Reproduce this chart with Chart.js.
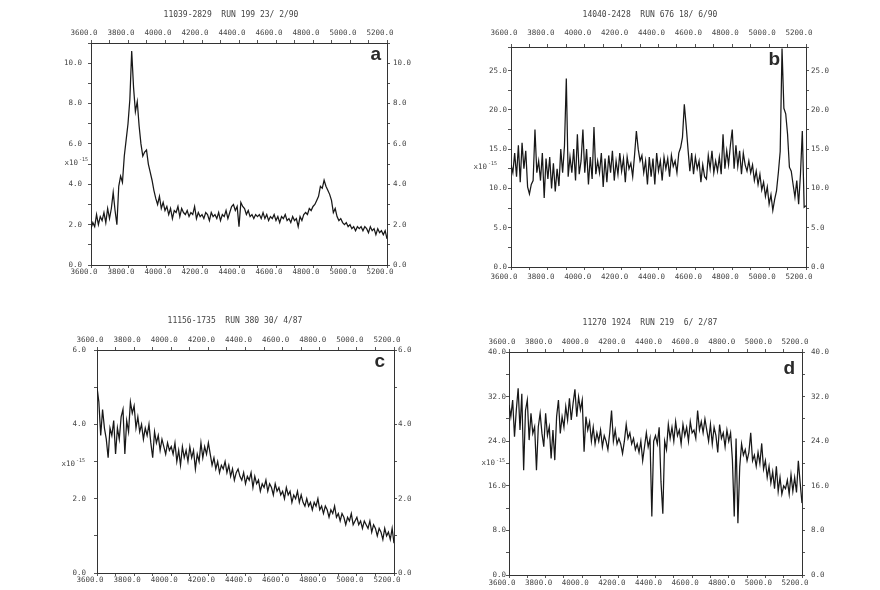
<!DOCTYPE html>
<html>
<head>
<meta charset="utf-8">
<script src="https://cdn.jsdelivr.net/npm/chart.js@4.4.0/dist/chart.umd.min.js"></script>
<style>
  body { margin: 0; background: #fff; width: 880px; height: 590px; position: relative; overflow: hidden; }
  canvas { position: absolute; }
</style>
</head>
<body>
<canvas id="pa" width="462" height="295" style="left:0px;top:0px"></canvas>
<canvas id="pb" width="400" height="295" style="left:450px;top:0px"></canvas>
<canvas id="pc" width="470" height="290" style="left:0px;top:300px"></canvas>
<canvas id="pd" width="400" height="290" style="left:450px;top:300px"></canvas>
<script>
// wavelength grid (Angstrom) - one reading every 10 A from 3600 to 5200
var lambdaStart = 3600;
var lambdaStep = 10;

var titleA = '11039-2829  RUN 199 23/ 2/90';
var titleB = '14040-2428  RUN 676 18/ 6/90';
var titleC = '11156-1735  RUN 380 30/ 4/87';
var titleD = '11270 1924  RUN 219  6/ 2/87';

var unitLabel = 'x10';
var unitPower = '-15';

// flux, units of 1e-15
var fluxA = [
  1.8, 2.1, 1.9, 2.5, 2.0, 2.4, 2.2, 2.6, 2.1, 2.8,
  2.3, 2.8, 3.6, 2.7, 2.0, 3.9, 4.4, 4.1, 5.4, 6.2,
  7.0, 8.2, 10.6, 8.8, 7.6, 8.1, 6.9, 6.0, 5.4, 5.6,
  5.7, 5.0, 4.6, 4.2, 3.7, 3.3, 3.0, 3.4, 2.8, 3.1,
  2.7, 2.9, 2.5, 2.8, 2.3, 2.7, 2.6, 2.9, 2.4, 2.8,
  2.6, 2.5, 2.7, 2.4, 2.6, 2.5, 2.9, 2.3, 2.6, 2.4,
  2.5, 2.3, 2.6, 2.5, 2.2, 2.6, 2.4, 2.5, 2.3, 2.6,
  2.2, 2.5, 2.4, 2.7, 2.3, 2.6, 2.9, 3.0, 2.7, 2.9,
  1.9, 3.1, 2.9, 2.8, 2.5, 2.7, 2.4, 2.5, 2.3, 2.5,
  2.4, 2.5, 2.3, 2.6, 2.3, 2.5, 2.2, 2.4, 2.3, 2.5,
  2.2, 2.4, 2.1, 2.4, 2.3, 2.5, 2.2, 2.3, 2.1, 2.4,
  2.2, 2.3, 1.9, 2.4, 2.2, 2.5, 2.6, 2.5, 2.8, 2.7,
  2.9, 3.0, 3.2, 3.4, 3.9, 3.8, 4.2, 3.9, 3.7, 3.5,
  3.2, 2.6, 2.8, 2.4, 2.2, 2.3, 2.1, 2.0, 2.1, 1.9,
  2.0, 1.8, 1.9, 1.7, 1.9, 1.8, 1.9, 1.7, 1.9, 1.8,
  1.6, 1.9, 1.7, 1.8, 1.5, 1.8, 1.6, 1.7, 1.5, 1.7,
  1.3
];

var fluxB = [
  13.0, 12.0, 14.5, 11.5, 15.5, 10.8, 15.8, 12.5, 14.8, 10.2,
  9.3, 10.5, 11.0, 17.5, 12.0, 13.5, 11.0, 14.5, 8.8, 13.8,
  11.2, 14.0, 10.0, 13.2, 9.6, 12.5, 10.3, 15.0, 12.0, 15.4,
  24.0, 11.5, 14.0, 12.0, 15.0, 11.0, 16.9, 11.8, 13.5, 17.5,
  12.0, 15.0, 10.5, 14.0, 11.2, 17.8, 11.8, 13.5, 12.0, 14.5,
  10.2, 13.8, 10.8, 14.2, 12.0, 14.8, 11.0, 13.5, 11.8, 14.5,
  12.2, 13.8, 10.8, 14.0, 12.5, 13.2, 11.5, 14.2, 17.3, 15.0,
  13.5, 14.2, 12.0, 13.5, 10.5, 14.0, 11.5, 13.8, 10.5, 14.5,
  12.2, 13.5, 11.0, 14.0, 12.5, 13.8, 11.5, 14.2, 12.8, 13.5,
  12.0, 14.5, 15.2, 16.5, 20.7, 18.0, 15.0, 12.2, 14.5, 11.8,
  14.0, 12.5, 13.5, 10.8, 13.0, 11.5, 11.2, 14.2, 12.5, 14.8,
  12.0, 13.5, 12.2, 14.0, 11.8, 16.9, 12.5, 14.8, 13.0, 15.5,
  17.5, 12.5, 15.5, 12.8, 14.8, 11.8, 14.5, 13.0, 12.2, 13.5,
  12.0, 13.0, 11.0, 12.2, 10.5, 11.8, 9.8, 10.8, 9.0, 10.2,
  8.0, 9.2, 7.2, 8.6, 9.7, 12.0, 14.7, 27.8, 20.2, 19.5,
  16.9, 12.7, 12.2, 10.5, 8.9, 11.0, 8.0, 11.8, 17.3, 7.6,
  7.8
];

var fluxC = [
  5.0, 4.6, 3.7, 4.4, 3.9, 3.6, 3.1, 3.9, 3.7, 4.1,
  3.2, 3.9, 3.6, 4.2, 4.4, 3.2, 4.1, 3.8, 4.6, 4.3,
  4.5, 3.9, 4.2, 3.8, 4.0, 3.6, 3.9, 3.7, 4.0, 3.5,
  3.1, 3.8, 3.5, 3.7, 3.3, 3.6, 3.4, 3.2, 3.5, 3.3,
  3.4, 3.2, 3.5, 3.0, 3.3, 2.9, 3.4, 3.1, 3.3, 3.0,
  3.4, 3.1, 3.3, 2.8, 3.2, 3.0, 3.5, 3.1, 3.4, 3.2,
  3.5, 3.2, 2.9, 3.1, 2.8, 3.0, 2.7, 2.9, 2.8, 3.0,
  2.7, 2.9, 2.6, 2.8, 2.5, 2.7, 2.8, 2.6, 2.5, 2.7,
  2.4, 2.6, 2.5, 2.7, 2.3, 2.6, 2.4, 2.5, 2.2, 2.4,
  2.3, 2.5, 2.2, 2.4, 2.3, 2.1, 2.4, 2.2, 2.3, 2.1,
  2.2, 2.0, 2.3, 2.1, 2.2, 1.9, 2.1, 2.0, 2.2, 1.9,
  2.1, 1.9, 1.8, 2.0, 1.8, 1.9, 1.7, 1.9, 1.8, 2.0,
  1.7, 1.8, 1.6, 1.8, 1.7, 1.5, 1.7, 1.6, 1.8, 1.5,
  1.6, 1.4, 1.6, 1.5, 1.3, 1.5, 1.4, 1.6, 1.3, 1.4,
  1.5, 1.3, 1.4, 1.2, 1.4, 1.3, 1.2, 1.4, 1.1, 1.3,
  1.2, 1.0, 1.2, 1.1, 0.9, 1.2, 1.0, 1.1, 0.9, 1.2,
  0.8
];

var fluxD = [
  30.5, 28.4, 31.4, 24.8, 29.6, 33.5, 26.0, 32.5, 18.8, 29.5,
  31.4, 24.2, 29.0, 25.4, 26.6, 18.8, 26.6, 29.0, 25.4, 23.0,
  29.0, 25.0, 26.6, 20.9, 26.0, 20.6, 28.4, 31.4, 25.4, 28.4,
  26.5, 30.2, 27.8, 31.7, 27.8, 30.8, 33.3, 28.4, 31.9, 29.6,
  31.4, 22.1, 28.4, 26.0, 27.5, 24.0, 26.5, 23.5, 25.5, 24.0,
  26.0, 23.0, 25.0, 24.0, 22.5, 25.5, 29.5, 24.0, 26.0, 23.5,
  24.5, 23.5, 21.8, 24.0, 27.0, 24.5, 25.5, 23.5, 24.5, 22.5,
  23.5, 22.0, 24.0, 20.5, 23.0, 25.5, 23.0, 24.5, 10.5, 24.0,
  25.0, 23.5, 26.5, 16.7, 11.0, 24.0, 22.5, 27.0, 24.5, 26.5,
  24.0, 27.5, 25.0, 26.0, 23.5, 27.0, 25.0, 26.5, 24.0, 27.5,
  25.5, 26.0, 24.5, 29.5, 26.0, 27.5, 25.5, 28.0, 26.0, 24.0,
  27.0, 23.5, 26.5, 25.0, 22.0, 27.0, 24.5, 25.5, 23.0, 26.0,
  24.0, 25.5, 20.6, 10.5, 24.5, 9.3, 19.4, 23.5, 21.5, 22.5,
  20.5, 22.0, 25.5, 20.5, 21.5, 19.5, 22.0, 20.0, 23.6, 19.0,
  20.5, 17.5, 19.5, 16.5, 18.5, 15.5, 19.5, 15.0, 17.5, 14.5,
  16.0, 15.5, 17.0, 14.5, 18.0, 15.0, 17.5, 14.8, 20.5, 16.5,
  12.9
];

Chart.defaults.font.family = '"DejaVu Sans Mono", monospace';
Chart.defaults.font.size = 7.5;
Chart.defaults.color = '#444';

// letter and x10^-15 label
var extras = {
  id: 'extras',
  afterDraw: function(chart, args, o) {
    var ctx = chart.ctx, a = chart.chartArea;
    ctx.save();
    ctx.fillStyle = '#2a2a2a';
    ctx.font = 'bold 19px "Liberation Sans", Arial, sans-serif';
    ctx.textAlign = 'right';
    ctx.textBaseline = 'alphabetic';
    ctx.fillText(o.letter, a.right - o.letterRight, a.top + o.letterBase);

    var uy = a.top + a.height * o.unitPos;
    var ux = a.left - o.unitGap;
    ctx.fillStyle = '#444';
    ctx.textBaseline = 'middle';
    ctx.font = '5px "DejaVu Sans Mono", monospace';
    ctx.fillText(unitPower, ux, uy - 3);
    var pw = ctx.measureText(unitPower).width;
    ctx.font = '7.5px "DejaVu Sans Mono", monospace';
    ctx.fillText(unitLabel, ux - pw - 1, uy);
    ctx.restore();
  }
};

function fixW(w) { return function(s) { s.width = w; }; }
function fixH(h) { return function(s) { s.height = h; }; }

function xAxis(pos, h, pad) {
  return {
    type: 'linear', position: pos, axis: 'x',
    min: 3600, max: 5200,
    afterFit: fixH(h),
    grid: { drawOnChartArea: false, drawTicks: true, tickLength: 3, color: '#555' },
    border: { display: true, color: '#333', width: 1 },
    ticks: {
      stepSize: 100, autoSkip: false, maxRotation: 0, padding: pad, labelOffset: -7,
      callback: function(v) { return v % 200 === 0 ? v.toFixed(1) : ''; }
    }
  };
}

function yAxis(pos, w, pad, ymax, major, minor) {
  return {
    type: 'linear', position: pos, axis: 'y',
    min: 0, max: ymax,
    afterFit: fixW(w),
    grid: { drawOnChartArea: false, drawTicks: true, tickLength: 3, color: '#555' },
    border: { display: true, color: '#333', width: 1 },
    ticks: {
      stepSize: minor, autoSkip: false, padding: pad,
      callback: function(v) {
        var r = v / major;
        return Math.abs(r - Math.round(r)) < 1e-6 ? v.toFixed(1) : '';
      }
    }
  };
}

function makePanel(id, p) {
  var pts = p.flux.map(function(v, i) { return { x: lambdaStart + i * lambdaStep, y: v }; });
  return new Chart(document.getElementById(id), {
    type: 'line',
    data: {
      datasets: [{
        data: pts,
        borderColor: '#181818',
        borderWidth: 1.25,
        pointRadius: 0,
        tension: 0,
        fill: false,
        xAxisID: 'x',
        yAxisID: 'y'
      }]
    },
    options: {
      responsive: false,
      animation: false,
      layout: { padding: 0 },
      plugins: {
        legend: { display: false },
        tooltip: { enabled: false },
        title: {
          display: true, text: p.title, color: '#444',
          font: { size: 8, lineHeight: 1, weight: 'normal' },
          padding: { top: p.titlePad, bottom: 0 }
        },
        extras: p.extras
      },
      scales: {
        x: xAxis('bottom', p.bh, p.bpad),
        x2: xAxis('top', p.th, p.tpad),
        y: yAxis('left', p.lw, p.lpad, p.ymax, p.major, p.minor),
        y2: yAxis('right', p.rw, p.rpad, p.ymax, p.major, p.minor)
      }
    },
    plugins: [extras]
  });
}

makePanel('pa', {
  title: titleA, flux: fluxA, ymax: 11, major: 2, minor: 1,
  titlePad: 11, th: 24, bh: 30, lw: 91, rw: 75,
  tpad: 2, bpad: 0, lpad: 6, rpad: 3,
  extras: { letter: 'a', letterRight: 6, letterBase: 17, unitPos: 0.54, unitGap: 3 }
});

makePanel('pb', {
  title: titleB, flux: fluxB, ymax: 28, major: 5, minor: 2.5,
  titlePad: 11, th: 28, bh: 28, lw: 61, rw: 44,
  tpad: 6, bpad: 3, lpad: 1, rpad: 2,
  extras: { letter: 'b', letterRight: 26, letterBase: 18, unitPos: 0.545, unitGap: 14 }
});

makePanel('pc', {
  title: titleC, flux: fluxC, ymax: 6, major: 2, minor: 1,
  titlePad: 17, th: 25, bh: 17, lw: 97, rw: 76,
  tpad: 2, bpad: 0, lpad: 8, rpad: 1,
  extras: { letter: 'c', letterRight: 9, letterBase: 17, unitPos: 0.51, unitGap: 12 }
});

makePanel('pd', {
  title: titleD, flux: fluxD, ymax: 40, major: 8, minor: 4,
  titlePad: 19, th: 25, bh: 15, lw: 59, rw: 48,
  tpad: 2, bpad: 1, lpad: 0, rpad: 6,
  extras: { letter: 'd', letterRight: 7, letterBase: 22, unitPos: 0.5, unitGap: 4 }
});
</script>
</body>
</html>
